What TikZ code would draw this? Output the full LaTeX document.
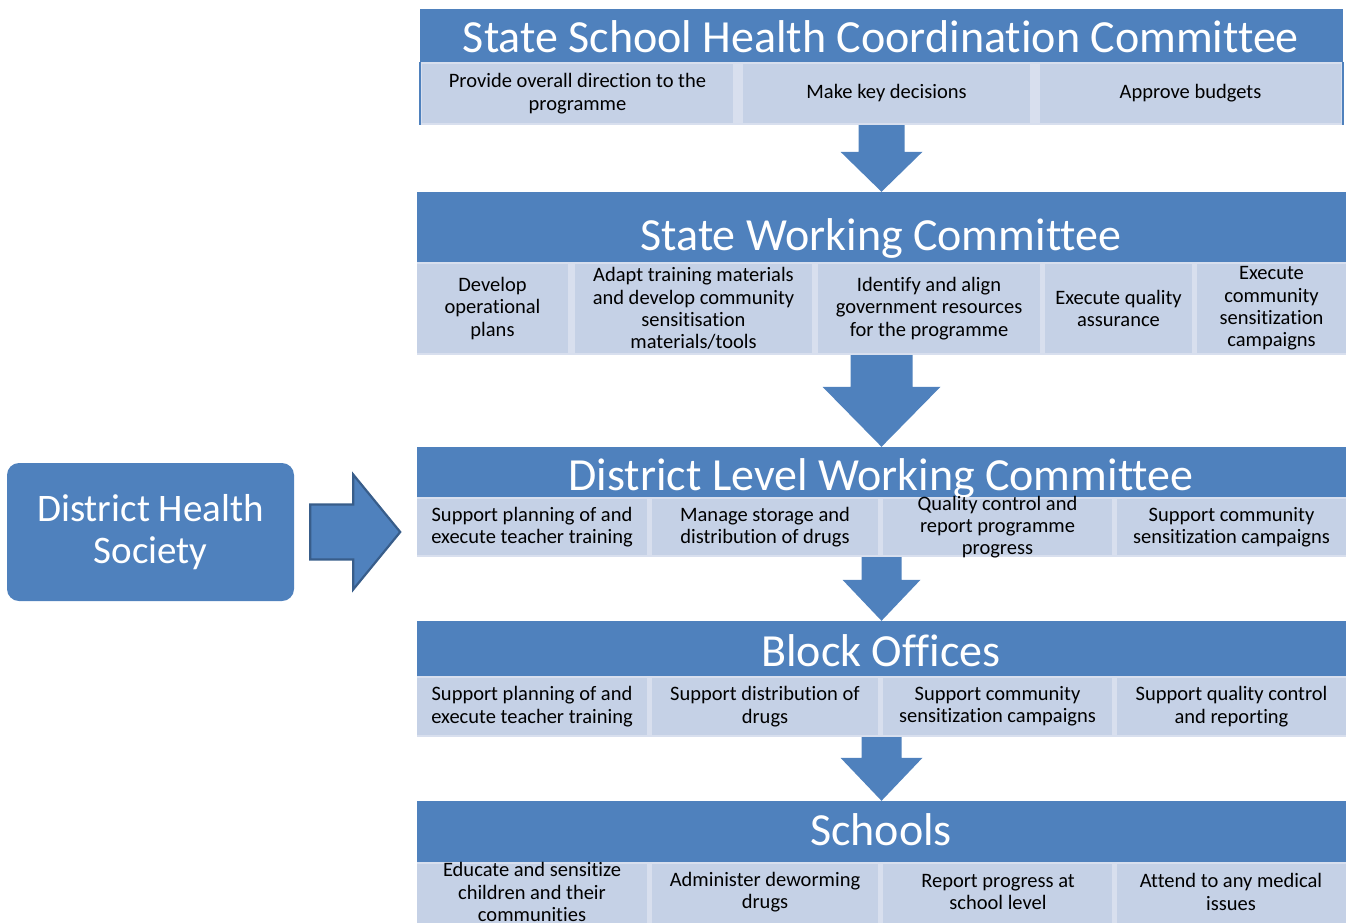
\documentclass[tikz,border=0pt]{standalone}
\usepackage{fontspec}
\setmainfont[Ligatures={NoCommon}]{Carlito}
\usetikzlibrary{calc}
\definecolor{hdr}{RGB}{79,129,189}
\definecolor{cellc}{RGB}{197,209,230}
\definecolor{cellbg}{RGB}{216,223,238}
\definecolor{arrowline}{RGB}{56,93,138}
\newcommand\mkbox[7]{\node[#1, minimum width={(#4)-(#3)}, minimum height={(#6)-(#5)}] (#2) at ({((#3)+(#4))/2},{((#5)+(#6))/2}) {#7};}
\newcommand\blockdown[5]{\fill[hdr] ($(#1.south)+(-#3,0)$) -- ($(#1.south)+(#3,0)$) -- ($(#2.north)+(#3,-#5)$) -- ($(#2.north)+(#4,-#5)$) -- (#2.north) -- ($(#2.north)+(-#4,-#5)$) -- ($(#2.north)+(-#3,-#5)$) -- cycle;}
\begin{document}
\begin{tikzpicture}[x=1pt,y=-1pt,
  hdrbar/.style={fill=hdr, inner sep=0pt},
  rowbg/.style={fill=cellbg, inner sep=0pt},
  cell/.style={fill=cellc, inner sep=0pt, align=center, font=\fontsize{20.5}{22.3}\selectfont, text=black},
  celltext/.style={inner sep=0pt, align=center, font=\fontsize{20.5}{22.3}\selectfont, text=black},
  title/.style={inner sep=0pt, text=white, font=\fontsize{46}{50}\selectfont},
  dhsbox/.style={fill=hdr, rounded corners=12pt, inner sep=0pt, align=center, text=white, font=\fontsize{39}{42}\selectfont}]
\useasboundingbox (0,0) rectangle (1346,922);
\clip (0,0) rectangle (1346,922);
% ---- Section 1
\mkbox{hdrbar}{h1}{420}{1343}{9}{62}{}
\node[title, anchor=base] (t1) at (881,52) {State School Health Coordination Committee};
\mkbox{rowbg}{r1}{420}{1343}{62}{125}{}
\mkbox{cell}{c11}{422}{733}{64}{123}{Provide overall direction to the\\programme}
\mkbox{cell}{c12}{743}{1030}{64}{123}{Make key decisions}
\mkbox{cell}{c13}{1040}{1341}{64}{123}{Approve budgets}
\draw[hdr, line width=1.5pt] (r1.north west) -- (r1.south west) (r1.north east) -- (r1.south east);
% ---- Section 2
\mkbox{hdrbar}{h2}{417}{1346}{192}{262}{}
\node[title, anchor=base] (t2) at (881,250) {State Working Committee};
\mkbox{rowbg}{r2}{417}{1346}{262}{355}{}
\mkbox{cell}{c21}{417}{568}{264}{353}{Develop\\operational\\plans}
\mkbox{cell}{c22}{575}{812}{264}{353}{Adapt training materials\\and develop community\\sensitisation\\materials/tools}
\mkbox{cell}{c23}{818}{1040}{264}{353}{Identify and align\\government resources\\for the programme}
\mkbox{cell}{c24}{1045}{1192}{264}{353}{Execute quality\\assurance}
\mkbox{cell}{c25}{1197}{1346}{264}{353}{Execute\\community\\sensitization\\campaigns}
% ---- Section 3
\mkbox{hdrbar}{h3}{417}{1346}{447}{497}{}
\node[title, anchor=base] (t3) at (881,490) {District Level Working Committee};
\mkbox{rowbg}{r3}{417}{1346}{497}{557}{}
\mkbox{cell}{c31}{417}{647}{499}{555}{Support planning of and\\execute teacher training}
\mkbox{cell}{c32}{652}{878}{499}{555}{Manage storage and\\distribution of drugs}
\mkbox{cell}{c33}{883}{1112}{499}{555}{}
\node[celltext] (c33t) at (c33.center) {Quality control and\\report programme\\progress};
\mkbox{cell}{c34}{1117}{1346}{499}{555}{Support community\\sensitization campaigns}
% ---- Section 4
\mkbox{hdrbar}{h4}{417}{1346}{621}{676}{}
\node[title, anchor=base] (t4) at (881,666) {Block Offices};
\mkbox{rowbg}{r4}{417}{1346}{676}{737}{}
\mkbox{cell}{c41}{417}{647}{678}{735}{Support planning of and\\execute teacher training}
\mkbox{cell}{c42}{652}{878}{678}{735}{Support distribution of\\drugs}
\mkbox{cell}{c43}{883}{1112}{678}{735}{Support community\\sensitization campaigns}
\mkbox{cell}{c44}{1117}{1346}{678}{735}{Support quality control\\and reporting}
% ---- Section 5
\mkbox{hdrbar}{h5}{417}{1346}{801}{862}{}
\node[title, anchor=base] (t5) at (881,845) {Schools};
\mkbox{rowbg}{r5}{417}{1346}{862}{924}{}
\mkbox{cell}{c51}{417}{647}{864}{926}{}
\node[celltext] (c51t) at (532,892) {Educate and sensitize\\children and their\\communities};
\mkbox{cell}{c52}{652}{878}{864}{926}{}
\node[celltext] (c52t) at (765,892) {Administer deworming\\drugs};
\mkbox{cell}{c53}{883}{1112}{864}{926}{}
\node[celltext] (c53t) at (998,892) {Report progress at\\school level};
\mkbox{cell}{c54}{1117}{1346}{864}{926}{}
\node[celltext] (c54t) at (1231,892) {Attend to any medical\\issues};
% ---- Down arrows
\blockdown{r1}{h2}{23}{41}{40}
\blockdown{r2}{h3}{31}{59}{60}
\blockdown{r3}{h4}{20}{39}{41}
\blockdown{r4}{h5}{20}{41}{43}
% ---- District Health Society
\mkbox{dhsbox}{dhs}{7}{294}{463}{601}{District Health\\Society}
\fill[hdr, draw=arrowline, line width=2.2pt, line join=miter]
  ($(dhs.east)+(16,-27.5)$) -- ($(dhs.east)+(59,-27.5)$) -- ($(dhs.east)+(59,-57.5)$)
  -- ($(dhs.east)+(106,0)$) -- ($(dhs.east)+(59,57.5)$) -- ($(dhs.east)+(59,27.5)$)
  -- ($(dhs.east)+(16,27.5)$) -- cycle;
\end{tikzpicture}
\end{document}
